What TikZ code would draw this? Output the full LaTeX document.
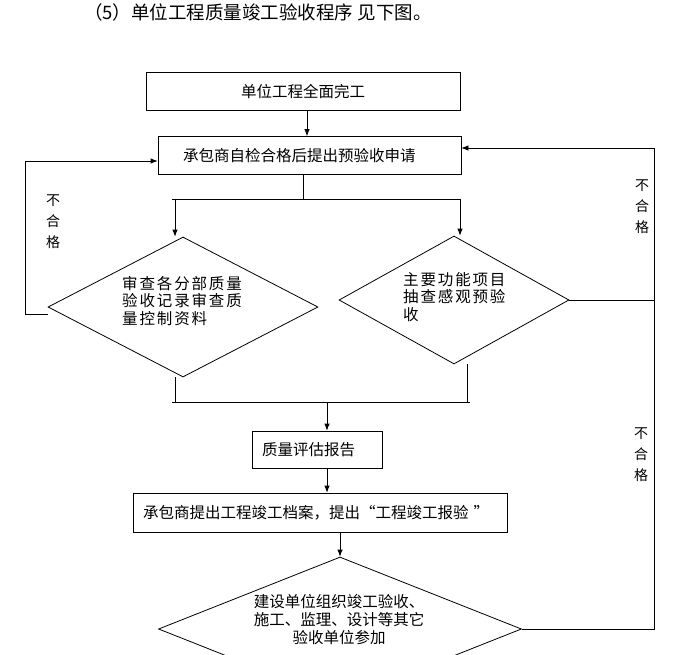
\documentclass[tikz,border=0pt]{standalone}
\usepackage{fontspec}
\setmainfont{Noto Sans CJK SC}
\newfontfamily\cjkwide{Noto Sans CJK SC}[LetterSpace=12]
\usetikzlibrary{positioning,calc,arrows.meta,shapes,shapes.geometric}
\tikzset{>={Latex[length=7pt,width=5.5pt]}}
\tikzset{stepbox/.style={draw, line width=0.8pt, minimum height=38pt, inner ysep=0pt, font=\fontsize{15.5}{18}\selectfont}}
\tikzset{decision/.style={draw, diamond, line width=0.8pt, inner sep=0pt}}
\tikzset{dtext/.style={align=left, inner sep=0pt, font=\cjkwide\fontsize{15.5}{17.5}\selectfont}}
\tikzset{fail/.style={align=center, inner sep=0pt, font=\fontsize{14}{21}\selectfont}}
\tikzset{arr/.style={draw, ->, line width=0.8pt}}
\tikzset{ln/.style={draw, line width=0.8pt}}

\begin{document}
\begin{tikzpicture}[x=1pt,y=-1pt]
	\clip (0,0) rectangle (674,654);
	\node[anchor=west, inner sep=0pt, font=\fontsize{18.5}{20}\selectfont] (title) at (84,12) {（5）单位工程质量竣工验收程序 见下图。};

	\node[stepbox, minimum width=314pt] (done) at (303,91.5) {单位工程全面完工};
	\node[stepbox, text width=253pt, inner xsep=25pt, align=left] (apply) at (309.5,155.5) {承包商自检合格后提出预验收申请};
	\node[stepbox, minimum height=37pt, text width=110pt, inner xsep=10pt, align=left] (report) at (317,449.5) {质量评估报告};
	\node[stepbox, minimum height=39pt, text width=354pt, inner xsep=10pt, align=left] (archive) at (320,512.5) {承包商提出工程竣工档案，提出“工程竣工报验 ”};

	\node[decision, minimum width=270pt, minimum height=140pt] (checkL) at (183,307) {};
	\node[decision, minimum width=230pt, minimum height=128pt] (checkR) at (454,300) {};
	\node[decision, minimum width=363pt, minimum height=144pt] (accept) at (340,629) {};
	\node[dtext, anchor=west] (checkLtxt) at (122,301) {审查各分部质量\\验收记录审查质\\量控制资料};
	\node[dtext, anchor=west] (checkRtxt) at (403,297) {主要功能项目\\抽查感观预验\\收};
	\node[align=center, inner sep=0pt, font=\fontsize{15.5}{18}\selectfont] (accepttxt) at (339,620)
		{建设单位组织竣工验收、\\施工、监理、设计等其它\\验收单位参加};

	\coordinate (split) at (303,199);
	\coordinate (forkL) at (175,199);
	\coordinate (forkR) at (460,199);
	\coordinate (joinL) at (175,402);
	\coordinate (joinR) at (467,402);
	\coordinate (join) at (327,402);
	\coordinate (backL) at (25,161);
	\coordinate (backR) at (654,148);

	\draw[arr] ([xshift=4pt]done.south) -- ([xshift=4pt]done.south |- apply.north);
	\draw[ln] (apply.south -| split) -- (split);
	\draw[ln] ([xshift=-3pt]forkL) -- (forkR);
	\draw[arr] (forkL) -- (forkL |- checkL.north);
	\draw[arr] (forkR) -- (forkR |- checkR.north);

	\draw[ln] (joinL |- checkL.south) -- (joinL);
	\draw[ln] (joinR |- checkR.south) -- (joinR);
	\draw[ln] ([xshift=-3pt]joinL) -- ([xshift=3pt]joinR);
	\draw[arr] (join) -- (join |- report.north);
	\draw[arr] (join |- report.south) -- (join |- archive.north);
	\draw[arr] (accept.north |- archive.south) -- (accept.north);

	\draw[arr] ([yshift=-7pt]checkL.west) -| (backL) -- (backL -| apply.west);
	\draw[arr] (accept.east) -| (backR) -- (backR -| apply.east);
	\draw[ln] (checkR.east) -- (checkR.east -| backR);

	\node[fail] (failL) at (53,222) {不\\合\\格};
	\node[fail] (failR) at (642,207) {不\\合\\格};
	\node[fail] (failB) at (641,455) {不\\合\\格};
\end{tikzpicture}
\end{document}
